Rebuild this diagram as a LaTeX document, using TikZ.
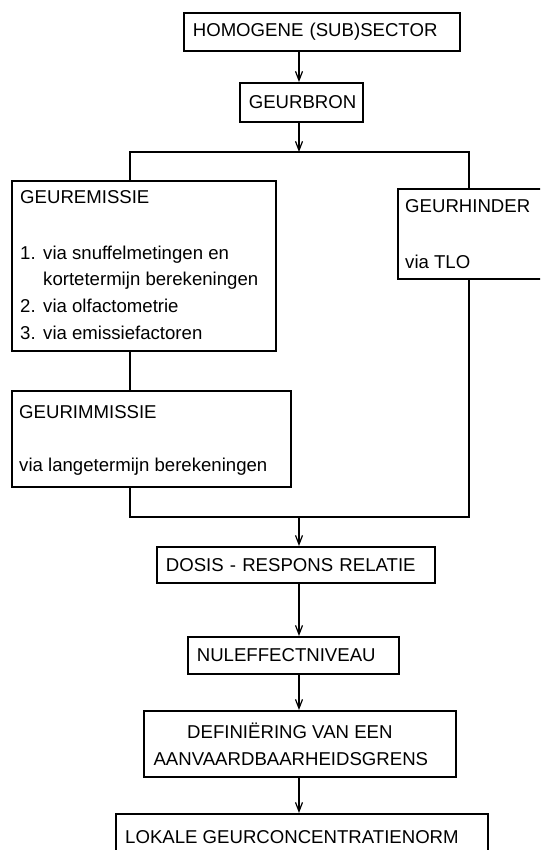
\documentclass[tikz,border=0pt]{standalone}
\usepackage{fontspec}
\setmainfont{Liberation Sans}
\usetikzlibrary{arrows.meta}
\newcommand\boxfont{\fontsize{18.6}{22}\selectfont}
\tikzset{
  box/.style={draw, line width=1.7pt, rectangle, inner sep=0pt, anchor=north west},
  lbox/.style={box, align=left, inner xsep=9pt, font=\boxfont},
  txt/.style={anchor=base west, inner sep=0pt, font=\boxfont},
  conn/.style={line width=1.4pt},
  arr/.style={conn, -{Straight Barb[length=9pt,width=7pt,line width=1.2pt]}}
}
\begin{document}
\begin{tikzpicture}[x=1pt,y=-1pt]
\clip (0,0) rectangle (540,850);
\fill[white] (0,0) rectangle (540,850);
% boxes
\node[lbox, minimum height=38pt, text width=258pt] (homog) at (183,12) {HOMOGENE (SUB)SECTOR};
\node[lbox, minimum height=39pt, text width=105pt] (bron) at (239,82) {GEURBRON};
\node[box, minimum width=264pt, minimum height=170pt] (emis) at (11,180) {};
\node[box, minimum width=220pt, minimum height=90pt] (hinder) at (397,188) {};
\node[box, minimum width=279pt, minimum height=96pt] (immis) at (11,390) {};
\node[lbox, minimum height=36pt, text width=260pt] (dosis) at (156,546) {DOSIS - RESPONS RELATIE};
\node[lbox, minimum height=37pt, text width=193pt] (nul) at (187,636) {NULEFFECTNIVEAU};
\node[box, minimum width=312pt, minimum height=66pt, align=center, font=\boxfont] (def) at (143,710) {DEFINIËRING VAN EEN\hspace*{20pt}\\[5pt]AANVAARDBAARHEIDSGRENS\hspace*{18pt}};
\node[box, minimum width=372pt, minimum height=60pt] (lok) at (115,813) {};
% texts inside multi-line boxes
\node[txt] (emisT) at (20,204) {GEUREMISSIE};
\node[txt] (e1n) at (20,259) {1.};
\node[txt] (e1) at (43,259) {via snuffelmetingen en};
\node[txt] (e1b) at (43,285) {kortetermijn berekeningen};
\node[txt] (e2n) at (20,312) {2.};
\node[txt] (e2) at (43,312) {via olfactometrie};
\node[txt] (e3n) at (20,339) {3.};
\node[txt] (e3) at (43,339) {via emissiefactoren};
\node[txt] (hinT) at (405,213) {GEURHINDER};
\node[txt] (hin1) at (405,268) {via TLO};
\node[txt] (immT) at (19,418) {GEURIMMISSIE};
\node[txt] (imm1) at (19,471) {via langetermijn berekeningen};
\node[txt] (lokT) at (125,843) {LOKALE GEURCONCENTRATIENORM};
% connector coordinates
\coordinate (sp) at (299,0);
\coordinate (jl) at (130,152);
\coordinate (jr) at (469,152);
\coordinate (jt) at (299,152);
\coordinate (bj) at (299,517);
% connectors
\draw[arr] (sp |- homog.south) -- (sp |- bron.north);
\draw[arr] (sp |- bron.south) -- (jt);
\draw[conn] (jl |- emis.north) -- (jl) -- (jr) -- (jr |- hinder.north);
\draw[conn] (jl |- emis.south) -- (jl |- immis.north);
\draw[conn] (jl |- immis.south) -- (jl |- bj) -- (jr |- bj) -- (jr |- hinder.south);
\draw[arr] (bj) -- (sp |- dosis.north);
\draw[arr] (sp |- dosis.south) -- (sp |- nul.north);
\draw[arr] (sp |- nul.south) -- (sp |- def.north);
\draw[arr] (sp |- def.south) -- (sp |- lok.north);
\end{tikzpicture}
\end{document}
